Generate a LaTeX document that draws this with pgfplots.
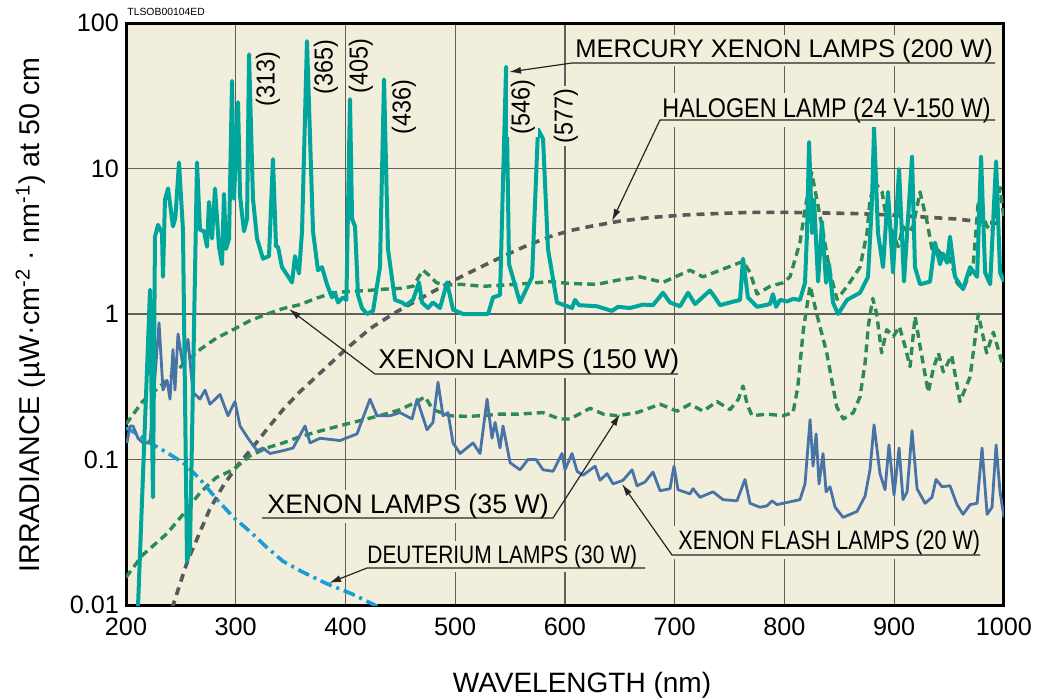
\documentclass[border=0pt]{standalone}
\usepackage{fontspec}
\setmainfont{Liberation Sans}
\usepackage{graphicx}
\usepackage{pgfplots}
\pgfplotsset{compat=1.18}
\usetikzlibrary{arrows.meta}
\definecolor{bgc}{RGB}{242,238,220}
\definecolor{tealc}{RGB}{0,166,156}
\definecolor{greenc}{RGB}{44,138,86}
\definecolor{grayc}{RGB}{88,89,91}
\definecolor{bluec}{RGB}{72,115,166}
\definecolor{deutc}{RGB}{22,158,216}
\definecolor{gridc}{RGB}{95,95,95}
\begin{document}
\begin{tikzpicture}
\begin{axis}[
  width=439pt, height=291pt, scale only axis,
  xmin=200, xmax=1000, ymin=0.01, ymax=100, ymode=log,
  axis background/.style={fill=bgc},
  xtick={200,300,400,500,600,700,800,900,1000},
  xticklabels={200,300,400,500,600,700,800,900,1000},
  ytick={0.01,0.1,1,10,100},
  yticklabels={0.01,0.1,1,10,100},
  yminorticks=false,
  major tick length=0pt,
  grid=major, grid style={gridc, line width=0.6pt},
  axis line style={line width=1.5pt, black},
  tick label style={font=\fontsize{12.6}{14}\selectfont},
  xticklabel style={yshift=-2.8pt},
  /pgf/number format/assume math mode=true,
]
% Halogen lamp
\addplot[grayc, line width=1.8pt, dash pattern=on 4pt off 3pt] coordinates {
(242,0.0095) (256,0.02) (266,0.03) (276,0.045) (288,0.065) (301,0.09) (315,0.12)
(328,0.16) (343,0.22) (358,0.29) (378,0.4) (400,0.57) (423,0.8) (447,1.04) (470,1.3)
(495,1.65) (523,2.1) (544,2.5) (565,2.95) (586,3.4) (605,3.75) (623,4.0) (650,4.35)
(677,4.6) (710,4.8) (738,4.9) (770,5.0) (798,5.0) (835,4.95) (865,4.9) (895,4.8)
(925,4.65) (956,4.5) (980,4.3) (1000,4.15)};
% Xenon 150 W
\addplot[greenc, line width=1.7pt, dash pattern=on 4pt off 2.5pt, line join=round] coordinates {
(200,0.175) (215,0.25) (237.4,0.35) (252,0.45) (267.4,0.57) (282,0.68) (297.5,0.78)
(313,0.9) (328.5,1.0) (343,1.09) (358.5,1.16) (373,1.28) (388.6,1.4) (404,1.43)
(419.6,1.45) (434,1.48) (449.7,1.5) (461.5,1.55) (470.6,2.0) (476,1.85) (483,1.64)
(492,1.58) (505,1.6) (525.3,1.55) (556,1.6) (586.3,1.67) (605,1.62) (629.2,1.6)
(650,1.72) (668.4,1.8) (689.3,1.65) (713.9,2.0) (725.7,1.8) (745,2.05) (762.2,2.3)
(768.6,1.93) (775,1.37) (786.8,1.55) (798.7,1.64) (805,1.8) (814.1,3.1) (818.7,5.2)
(824.7,9.4) (834.2,4.0) (841.5,1.93) (847.9,1.26) (857,1.55) (868.8,2.1) (875.2,3.6)
(877.9,6.1) (882.5,8.0) (888.9,6.9) (893.4,4.3) (898.9,3.6) (903.5,2.9) (908,4.0)
(912.6,3.6) (917.1,4.0) (923.5,6.9) (929.9,4.3) (934.4,2.8) (939,2.8) (944.4,2.5)
(950.8,2.4) (957.2,1.64) (962.7,1.48) (971.8,2.1) (976.4,5.7) (984.6,4.0) (989.1,3.7)
(996.4,7.4) (1000,4.5)};
% Xenon 35 W
\addplot[greenc, line width=1.7pt, dash pattern=on 4pt off 2.5pt, line join=round] coordinates {
(200,0.0155) (215,0.022) (237.4,0.031) (252,0.042) (267.4,0.059) (282,0.075)
(297.5,0.085) (313,0.106) (328,0.12) (343.1,0.13) (358,0.143) (374,0.155) (394,0.17)
(413.2,0.185) (431,0.2) (449.7,0.22) (465.2,0.25) (472.4,0.27) (479.7,0.22)
(495.2,0.2) (510,0.198) (525.3,0.2) (540,0.205) (556.3,0.205) (580,0.21) (595,0.19)
(604.6,0.19) (622.8,0.225) (635,0.205) (647.4,0.2) (665.6,0.21) (686.6,0.24)
(702.1,0.215) (713.9,0.24) (725.8,0.215) (738.5,0.25) (750.4,0.22) (758,0.26)
(762.2,0.32) (766,0.24) (770.4,0.2) (784,0.205) (798.7,0.2) (807.8,0.21) (812,0.31)
(817.2,0.78) (823.3,1.56) (829.4,1.0) (838.5,0.54) (847.6,0.23) (853.6,0.19)
(862.7,0.21) (868.8,0.27) (873.4,0.46) (876.4,0.83) (880.4,1.28) (884,1.0)
(888.5,0.54) (893.1,0.78) (899.2,0.70) (904.7,0.82) (909.8,0.60) (914.4,0.435)
(919,0.96) (923.5,0.6) (931,0.29) (935.6,0.42) (940.2,0.54) (944.7,0.40) (952.3,0.52)
(959.9,0.25) (969.1,0.37) (976.6,1.0) (984.2,0.54) (990.3,0.75) (999.4,0.43)};
% Deuterium 30 W
\addplot[deutc, line width=1.8pt, dash pattern=on 6pt off 2.5pt on 1.5pt off 2.5pt] coordinates {
(200,0.165) (210,0.15) (222,0.13) (237,0.112) (252,0.095) (267,0.074) (283,0.053)
(298,0.04) (313,0.032) (328,0.025) (343,0.020) (360,0.017) (383,0.014) (405,0.012)
(429,0.0098)};
% Xenon flash 20 W
\addplot[bluec, line width=1.4pt, line join=round] coordinates {
(200.9,0.13) (203.6,0.17) (206.4,0.17) (210.9,0.14) (215.5,0.13) (221.9,0.13)
(223.7,0.2) (226.4,0.37) (230.1,0.87) (233.7,0.30) (237.4,0.35) (240.1,0.26)
(242.8,0.57) (244.6,0.3) (247.4,0.73) (251.9,0.44) (256.5,0.67) (261,0.29)
(267.4,0.26) (272,0.3) (276.5,0.24) (285.7,0.28) (292.9,0.2) (299.3,0.25)
(303.9,0.17) (311.2,0.14) (319.4,0.115) (324.8,0.12) (331.2,0.11) (343.1,0.115)
(352.2,0.12) (363.1,0.17) (367.7,0.13) (376.8,0.14) (395,0.135) (410.5,0.15)
(422.3,0.26) (428.7,0.2) (440.6,0.2) (449.7,0.21) (460.6,0.19) (465.2,0.26)
(474.3,0.16) (479.7,0.18) (484.3,0.34) (488.8,0.2) (493.4,0.21) (498,0.13)
(504.4,0.11) (516.2,0.13) (522.6,0.11) (529,0.26) (533.5,0.14) (536.3,0.18)
(540.8,0.12) (543.5,0.17) (550,0.095) (559,0.085) (566.3,0.1) (573.6,0.1) (580,0.085)
(589.1,0.083) (597.3,0.11) (600,0.085) (606.4,0.11) (611,0.083) (616.4,0.078)
(627.4,0.09) (631.9,0.072) (638.3,0.08) (643.8,0.068) (652.9,0.072) (661.1,0.085)
(665.6,0.066) (672.9,0.07) (680.2,0.082) (686.6,0.061) (695.7,0.063) (699.3,0.09)
(703,0.062) (713.9,0.058) (716.6,0.063) (723,0.055) (734.9,0.06) (744,0.053)
(756.7,0.052) (764,0.073) (768.6,0.05) (777.7,0.047) (784,0.048) (788.6,0.052)
(793.2,0.049) (798.7,0.05) (814.1,0.053) (818.7,0.068) (823.3,0.188) (826,0.09)
(828.8,0.15) (831.5,0.068) (835.1,0.11) (837.9,0.06) (841.5,0.065) (846.1,0.047)
(853.4,0.04) (866.1,0.044) (873.4,0.056) (877.9,0.085) (881.6,0.173) (887,0.08)
(891.6,0.062) (895.2,0.126) (899.8,0.057) (904.4,0.12) (908,0.053) (911.7,0.06)
(916.2,0.158) (920.8,0.063) (928.1,0.05) (934.4,0.055) (938.1,0.073) (943.5,0.065)
(950.8,0.066) (957.2,0.049) (962.7,0.042) (969.1,0.049) (975.5,0.05) (980,0.12)
(984.6,0.042) (989.1,0.047) (992.8,0.126) (996.4,0.06) (1000,0.04)};
% Mercury xenon 200 W
\addplot[tealc, line width=2pt, line join=round] coordinates {
(210.5,0.008) (221.9,1.47) (224.6,0.055) (226.4,3.4) (229.2,4.1) (232.8,3.6)
(233.7,1.8) (235.5,6.1) (238.3,7.3) (242.8,4.0) (245,4.6) (248.3,11) (251.9,3.8)
(255.6,0.02) (258.3,0.024) (264.7,11) (267.4,3.8) (271.1,3.7) (273.8,2.9) (275.6,5.9)
(278.4,3.3) (281.1,7.3) (284.7,2.9) (287.5,2.2) (289.3,6.7) (291.1,2.8) (293.9,3.3)
(296.6,40) (298.4,6.2) (302.1,28.6) (303.9,6.5) (307.5,3.7) (310.3,4.5) (312.1,61)
(315.7,6.2) (319.4,3.3) (324.8,2.4) (330.3,2.5) (333.9,11.6) (336.7,2.9) (338.5,2.9)
(342.1,2.1) (351.3,1.65) (354,2.5) (357.6,1.9) (360.4,3.7) (364.9,75) (370.4,3.7)
(374.9,2.0) (378.6,2.1) (383.1,1.6) (387.7,1.3) (390.4,1.4) (393.2,1.2) (397.7,1.3)
(400.8,1.25) (404.1,30) (406,4.5) (408.7,4.0) (411.4,1.35) (415,1.1) (419.6,1.0)
(425.1,1.05) (431.4,2.1) (435.1,41) (438.7,2.8) (445.1,1.25) (451.5,1.2) (455.1,1.15)
(461.5,1.25) (467,1.65) (469.7,1.2) (475.2,1.1) (479.7,1.2) (486.1,1.1) (492.5,1.65)
(498,1.07) (507.1,1.0) (529.9,1.0) (534.4,1.3) (540.8,1.35) (546.3,50) (549,2.2)
(559,1.2) (570,1.8) (575.4,18.6) (580,16) (584.5,2.8) (592.7,1.2) (606.4,1.1)
(609.1,1.25) (612.8,1.15) (629.2,1.13) (642.8,1.05) (648.3,1.12) (659.2,1.1)
(671.1,1.16) (680.2,1.15) (689.3,1.4) (695.7,1.2) (704.8,1.13) (712.1,1.4)
(718.5,1.17) (732.1,1.45) (736.7,1.3) (741.3,1.15) (750.4,1.2) (759.5,1.25)
(762.2,2.4) (766.7,1.3) (775,1.12) (786.8,1.17) (789.5,1.37) (792.3,1.12) (795.9,1.25)
(802.3,1.22) (807.8,1.27) (814.1,1.25) (818.7,1.64) (820.5,3.6) (822.4,15.2)
(825.1,3.6) (826.9,6.1) (830.6,1.67) (834.2,4.3) (837.9,1.64) (840.6,2.2) (844.2,1.2)
(848.8,1.0) (857,1.25) (868.8,1.4) (876.1,1.8) (879.8,6.1) (881.6,19.2) (885.2,3.6)
(889.8,2.1) (894.3,6.9) (898.9,1.93) (904.4,9.9) (908.9,1.67) (916.2,12.1) (918.9,2.1)
(923.5,1.6) (932.6,1.67) (937.1,3.1) (941.7,2.2) (944.4,2.6) (948.1,2.25) (950.8,3.4)
(955.4,1.8) (962.7,1.48) (969.1,2.1) (975.5,1.8) (979.1,12.1) (982.8,1.93) (987.4,1.6)
(992.8,11.2) (996.4,1.93) (999.9,1.67)};
\coordinate (sw) at (rel axis cs:0,0);
\end{axis}
% annotations in reference pixel units (1 px = 0.5 pt)
\begin{scope}[shift={(sw)}, xshift=-63pt, yshift=302.5pt, x=0.5pt, y=-0.5pt]
\node[anchor=base west, inner sep=0pt, font=\fontsize{5.2}{6}\selectfont] at (127,16) {TLSOB00104ED};
\node[anchor=base, font=\fontsize{14}{16}\selectfont, inner sep=0pt] at (582,692) {WAVELENGTH (nm)};
\node[anchor=base, rotate=90, font=\fontsize{14.3}{16}\selectfont, inner sep=0pt] at (40,315)
  {IRRADIANCE (µW·cm\textsuperscript{-2} · nm\textsuperscript{-1}) at 50 cm};
% wavelength tags
\begin{scope}[every node/.style={rotate=90, fill=bgc, inner sep=1.2pt, font=\fontsize{13}{14}\selectfont}]
\node at (268,79) {\scalebox{0.9}[1]{(313)}};
\node at (326,67) {\scalebox{0.9}[1]{(365)}};
\node at (361,66) {\scalebox{0.9}[1]{(405)}};
\node at (404,107) {\scalebox{0.9}[1]{(436)}};
\node at (523,107) {\scalebox{0.9}[1]{(546)}};
\node at (566,116) {\scalebox{0.9}[1]{(577)}};
\end{scope}
% series labels
\begin{scope}[every node/.style={anchor=base west, fill=bgc, inner sep=2pt}]
\node[font=\fontsize{12.75}{14}\selectfont] at (571,57) {MERCURY XENON LAMPS (200 W)};
\node[font=\fontsize{13.5}{15}\selectfont] at (658,117) {\scalebox{0.865}[1]{HALOGEN LAMP (24 V-150 W)}};
\node[font=\fontsize{13.6}{15}\selectfont] at (374,368) {XENON LAMPS (150 W)};
\node[font=\fontsize{13.4}{15}\selectfont] at (263,513) {XENON LAMPS (35 W)};
\node[font=\fontsize{12.6}{14}\selectfont] at (363,563) {\scalebox{0.83}[1]{DEUTERIUM LAMPS (30 W)}};
\node[font=\fontsize{13.3}{15}\selectfont] at (674,549) {\scalebox{0.81}[1]{XENON FLASH LAMPS (20 W)}};
\end{scope}
% leaders
\begin{scope}[black!85, line width=0.6pt, -{Latex[length=6pt,width=3.5pt]}]
\draw (995,63) -- (572,63) -- (509,72);
\draw (995,120) -- (660,120) -- (612,221);
\draw (678,374) -- (375,374) -- (289,309);
\draw (262,518) -- (553,518) -- (620,414);
\draw (645,568) -- (367,568) -- (329,583);
\draw (980,555) -- (672,555) -- (622,484);
\end{scope}
\pgfresetboundingbox
\path (0,0) rectangle (1037,698);
\end{scope}
\end{tikzpicture}
\end{document}
